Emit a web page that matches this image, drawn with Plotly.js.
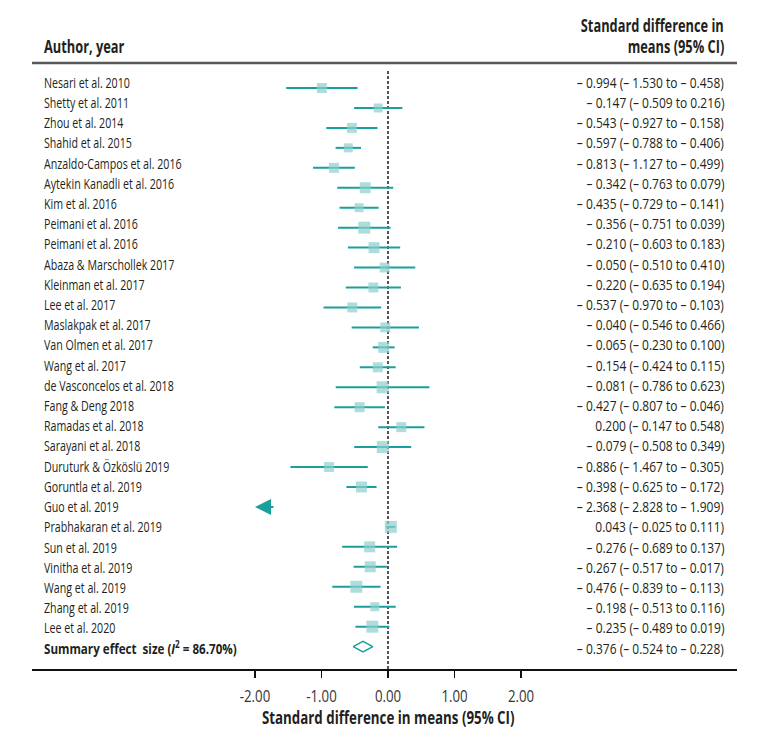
<!DOCTYPE html>
<html><head><meta charset="utf-8">
<script src="https://cdn.plot.ly/plotly-3.0.1.min.js"></script>
<style>html,body{margin:0;padding:0;background:#fff}</style>
</head><body><div id="chart" style="width:771px;height:746px"></div>
<script>
// ---------- data ----------
const authors = [
  "Nesari et al. 2010", "Shetty et al. 2011", "Zhou et al. 2014", "Shahid et al. 2015",
  "Anzaldo-Campos et al. 2016", "Aytekin Kanadli et al. 2016", "Kim et al. 2016",
  "Peimani et al. 2016", "Peimani et al. 2016", "Abaza & Marschollek 2017",
  "Kleinman et al. 2017", "Lee et al. 2017", "Maslakpak et al. 2017", "Van Olmen et al. 2017",
  "Wang et al. 2017", "de Vasconcelos et al. 2018", "Fang & Deng 2018", "Ramadas et al. 2018",
  "Sarayani et al. 2018", "Duruturk & Özköslü 2019", "Goruntla et al. 2019", "Guo et al. 2019",
  "Prabhakaran et al. 2019", "Sun et al. 2019", "Vinitha et al. 2019", "Wang et al. 2019",
  "Zhang et al. 2019", "Lee et al. 2020"
];
const estimate = [-0.994, -0.147, -0.543, -0.597, -0.813, -0.342, -0.435, -0.356, -0.210, -0.050,
  -0.220, -0.537, -0.040, -0.065, -0.154, -0.081, -0.427, 0.200, -0.079, -0.886, -0.398, -2.368,
  0.043, -0.276, -0.267, -0.476, -0.198, -0.235];
const lower = [-1.530, -0.509, -0.927, -0.788, -1.127, -0.763, -0.729, -0.751, -0.603, -0.510,
  -0.635, -0.970, -0.546, -0.230, -0.424, -0.786, -0.807, -0.147, -0.508, -1.467, -0.625, -2.828,
  -0.025, -0.689, -0.517, -0.839, -0.513, -0.489];
const upper = [-0.458, 0.216, -0.158, -0.406, -0.499, 0.079, -0.141, 0.039, 0.183, 0.410,
  0.194, -0.103, 0.466, 0.100, 0.115, 0.623, -0.046, 0.548, 0.349, -0.305, -0.172, -1.909,
  0.111, 0.137, -0.017, -0.113, 0.116, 0.019];
const summaryLabel = "Summary effect  size (<i>I</i><sup>2</sup> = 86.70%)";
const summaryEstimate = -0.376;
const summaryLower = -0.524;
const summaryUpper = -0.228;
const tickValues = [-2, -1, 0, 1, 2];
const tickLabels = ["-2.00", "-1.00", "0.00", "1.00", "2.00"];
const xAxisTitle = "Standard difference in means (95% CI)";
const headerLeft = "Author, year";
const headerRight = ["Standard difference in", "means (95% CI)"];

// ---------- styles ----------
const markerSizePx = [10, 9, 10, 9, 10, 11, 9, 12, 11, 10, 10, 10, 10, 11, 10, 12, 10, 10, 12, 10,
  11, 11, 12, 11, 11, 12, 9, 12];
const FONT = '"Open Sans", "Noto Sans", "DejaVu Sans", sans-serif';
const TXT = '#231f20';
const FILL = '#8dcfcd';
const LINE = '#1a9f9c';
const xClip = -2;          // lower display limit of the scale in the original figure
// condensed look of the original typeface: [sample text, its pixel width in the original]
const condenseSample = {
  name: ["Nesari et al. 2010", 86],
  ci: [null, 147],
  summary: [null, 193],
  header: ["Standard difference in", 143],
  axis: [null, 253],
  tick: [null, 30.5]
};

// geometry (pixels)
const W = 771, H = 746, mL = 32, mR = 34, mT = 63, mB = 77;
const plotH = H - mT - mB, plotW = W - mL - mR;
const textRow0 = 81.7, textStep = 20.21;   // text row centres
const markRow0 = 88, markStep = 19.95;     // mark row centres
const yPaper = px => (H - mB - px) / plotH;
const xPaper = px => (px - mL) / plotW;

const N = authors.length;
const rows = authors.map((_, i) => i);
const fmt = v => (v < 0 ? "\u2013 " : "") + Math.abs(v).toFixed(3);
const ciText = (e, l, u) => `${fmt(e)} (${fmt(l)} to ${fmt(u)})`;

const shown = rows.filter(i => lower[i] >= xClip);
const clipped = rows.filter(i => lower[i] < xClip);

const traces = [];
traces.push({
  type: 'scatter', mode: 'markers',
  x: shown.map(i => estimate[i]), y: shown,
  error_x: { type: 'data', symmetric: false,
    array: shown.map(i => upper[i] - estimate[i]),
    arrayminus: shown.map(i => estimate[i] - lower[i]),
    color: LINE, thickness: 2, width: 0 },
  marker: { symbol: 'square', size: shown.map(i => markerSizePx[i]), color: FILL, line: { width: 0 } },
  hoverinfo: 'skip', showlegend: false
});
const hRow = 5.3 / markStep;
traces.push({
  type: 'scatter', mode: 'lines',
  x: [summaryLower, summaryEstimate, summaryUpper, summaryEstimate, summaryLower],
  y: [N, N - hRow, N, N + hRow, N],
  fill: 'toself', fillcolor: '#ffffff',
  line: { color: LINE, width: 1.5 }, hoverinfo: 'skip', showlegend: false
});

const annotations = [];
const annClass = [];
function addAnn(cls, a) { annotations.push(a); annClass.push(cls); }
rows.forEach(i => {
  addAnn('name', { xref: 'paper', yref: 'paper', x: xPaper(42), y: yPaper(textRow0 + textStep * i),
    xanchor: 'left', yanchor: 'middle', align: 'left', showarrow: false, text: authors[i],
    font: { family: FONT, size: 15, color: TXT } });
  addAnn('ci', { xref: 'paper', yref: 'paper', x: xPaper(726), y: yPaper(textRow0 + textStep * i),
    xanchor: 'right', yanchor: 'middle', align: 'right', showarrow: false, text: ciText(estimate[i], lower[i], upper[i]),
    font: { family: FONT, size: 15, color: TXT } });
});
addAnn('summary', { xref: 'paper', yref: 'paper', x: xPaper(42), y: yPaper(textRow0 + textStep * N),
  xanchor: 'left', yanchor: 'middle', align: 'left', showarrow: false, text: '<b>' + summaryLabel + '</b>',
  font: { family: FONT, size: 15, color: TXT } });
addAnn('ci', { xref: 'paper', yref: 'paper', x: xPaper(726), y: yPaper(textRow0 + textStep * N),
  xanchor: 'right', yanchor: 'middle', align: 'right', showarrow: false, text: ciText(summaryEstimate, summaryLower, summaryUpper),
  font: { family: FONT, size: 15, color: TXT } });
clipped.forEach(i => {
  addAnn('arrow', { xref: 'x', yref: 'y', x: xClip, y: i, ax: 20, ay: 0, text: '',
    showarrow: true, arrowhead: 2, arrowsize: 1.6, arrowwidth: 2, arrowcolor: LINE });
});
addAnn('header', { xref: 'paper', yref: 'paper', x: xPaper(42), y: yPaper(46),
  xanchor: 'left', yanchor: 'middle', align: 'left', showarrow: false, text: '<b>' + headerLeft + '</b>',
  font: { family: FONT, size: 17, color: TXT } });
headerRight.forEach((t, k) => {
  addAnn('header', { xref: 'paper', yref: 'paper', x: xPaper(726), y: yPaper(25 + 21 * k),
    xanchor: 'right', yanchor: 'middle', align: 'right', showarrow: false, text: '<b>' + t + '</b>',
    font: { family: FONT, size: 17, color: TXT } });
});
addAnn('axis', { xref: 'x', yref: 'paper', x: 0, y: yPaper(717),
  xanchor: 'center', yanchor: 'middle', align: 'center', showarrow: false, text: '<b>' + xAxisTitle + '</b>',
  font: { family: FONT, size: 17, color: TXT } });

const pxPerUnit = 66.5, zeroPx = 388;
const layout = {
  width: W, height: H,
  margin: { l: mL, r: mR, t: mT, b: mB, pad: 0 },
  paper_bgcolor: '#ffffff', plot_bgcolor: '#ffffff',
  showlegend: false,
  xaxis: {
    range: [(mL - zeroPx) / pxPerUnit, (W - mR - zeroPx) / pxPerUnit],
    tickvals: tickValues, ticktext: tickLabels,
    ticks: 'outside', ticklen: 7, tickwidth: 1.3, tickcolor: '#111',
    ticklabelstandoff: 5,
    showline: true, linecolor: '#111', linewidth: 1.5,
    showgrid: false, zeroline: false, fixedrange: true,
    tickfont: { family: FONT, size: 16, color: '#333' }
  },
  yaxis: {
    visible: false, fixedrange: true,
    range: [(H - mB - markRow0) / markStep, (mT - markRow0) / markStep]
  },
  shapes: [
    { type: 'line', xref: 'paper', yref: 'paper', x0: 0, x1: 1, y0: 1, y1: 1,
      line: { color: '#595959', width: 2.5 } },
    { type: 'line', xref: 'x', yref: 'paper', x0: 0, x1: 0, y0: 0, y1: yPaper(70),
      line: { color: '#555555', width: 2, dash: '3px,2px' }, layer: 'below' }
  ],
  annotations: annotations
};

// horizontally condense a text element about its anchor side ('left' | 'right' | 'center')
function condense(el, sx, side) {
  const bb = el.getBBox();
  const ox = side === 'right' ? bb.x + bb.width : side === 'center' ? bb.x + bb.width / 2 : bb.x;
  const t = el.getAttribute('transform') || '';
  el.setAttribute('transform', `${t} translate(${ox},0) scale(${sx},1) translate(${-ox},0)`);
}

Plotly.newPlot('chart', traces, layout, { displayModeBar: false, staticPlot: true }).then(gd => {
  const groups = Array.from(gd.querySelectorAll('.annotation'));
  const byClass = {};
  groups.forEach((g, k) => {
    const idx = g.hasAttribute('data-index') ? +g.getAttribute('data-index') : k;
    const el = g.querySelector('text.annotation-text');
    if (!el || !el.textContent) return;
    const cls = annClass[idx];
    (byClass[cls] = byClass[cls] || []).push({ el, side: annotations[idx].xanchor });
  });
  byClass.tick = Array.from(gd.querySelectorAll('.xtick text')).map(el => ({ el, side: 'center' }));
  Object.keys(byClass).forEach(cls => {
    const items = byClass[cls];
    const spec = condenseSample[cls];
    if (!spec || !items.length) return;
    const sample = items.find(it => spec[0] && it.el.textContent === spec[0]) || items[0];
    const w = sample.el.getBBox().width;
    const sx = w > 0 ? spec[1] / w : 1;
    items.forEach(it => condense(it.el, sx, it.side));
  });
});
</script></body></html>
